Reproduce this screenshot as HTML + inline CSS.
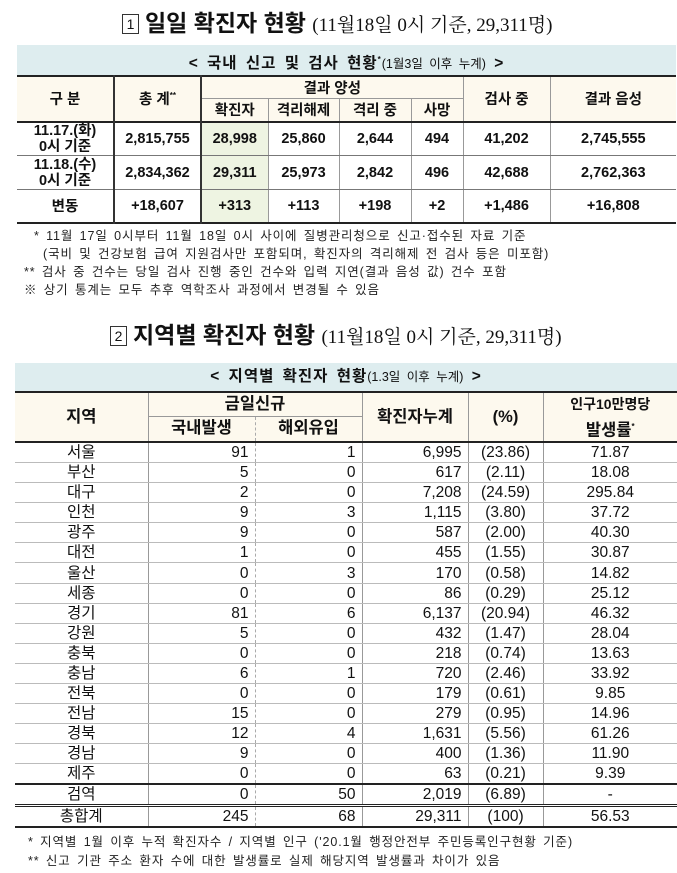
<!DOCTYPE html>
<html><head><meta charset="utf-8"><style>
*{margin:0;padding:0;box-sizing:border-box}
body{width:677px;height:873px;background:#fff;font-family:"Liberation Sans","Noto Sans CJK KR",sans-serif;color:#111;position:relative;overflow:hidden}
.a{position:absolute}
.t{font-weight:bold;font-size:23px;white-space:nowrap}
.t small{font-family:"Liberation Serif","Noto Serif CJK SC",serif;font-weight:normal;font-size:19px}
.bx{display:inline-block;width:17px;height:20px;border:1px solid #333;font-size:14px;font-weight:normal;text-align:center;line-height:18px;vertical-align:2px;margin-right:6px}
.bar{background:#deedef;text-align:center;font-weight:bold;font-size:15.5px;letter-spacing:1px;word-spacing:3px}
.bar span{font-weight:normal;font-size:12.5px;letter-spacing:0}
table{position:absolute;border-collapse:collapse;table-layout:fixed}
td{text-align:center;padding:0;white-space:nowrap}
.t1 td{font-size:14.5px;font-weight:bold;border-left:1px solid #999;border-bottom:1px solid #777}
.t1 td.f{border-left:none}
.t1 td.k{border-left:2px solid #333}
.hd td{background:#fdf9ee}
.g{background:#eef4e2}
.t2 td{font-size:15.5px;border-left:1px solid #999;border-bottom:1px solid #bbb;height:20.1px;line-height:19px}
.t2 td.r{text-align:right;padding-right:6px}
.t2 td.d{border-left:1px dashed #aaa}
.t2 .hd td{font-weight:bold;font-size:16.5px;border-bottom:1px solid #999}
.fn{font-size:12.5px;white-space:nowrap;color:#222;letter-spacing:0.9px;word-spacing:2px}
</style></head><body>
<div class="a t" style="left:122px;top:4px"><span class="bx">1</span>일일 확진자 현황 <small>(11월18일 0시 기준, 29,311명)</small></div>
<div class="a bar" style="left:17px;top:45px;width:659px;height:30px;line-height:30px">&lt; 국내 신고 및 검사 현황<sup style="font-size:8px">*</sup><span>(1월3일 이후 누계)</span> &gt;</div>
<table class="t1" style="left:17px;top:75px;width:659px;border-top:2px solid #222;border-bottom:2px solid #222">
<colgroup><col style="width:97px"><col style="width:87px"><col style="width:67px"><col style="width:71px"><col style="width:72px"><col style="width:52px"><col style="width:87px"><col style="width:126px"></colgroup>
<tr class="hd" style="height:22px"><td class="f" rowspan="2">구 분</td><td class="k" rowspan="2">총 계<sup style="font-size:8px">**</sup></td><td class="k" colspan="4" style="border-bottom:1px solid #999">결과 양성</td><td rowspan="2">검사 중</td><td rowspan="2">결과 음성</td></tr>
<tr class="hd" style="height:23px;border-bottom:2px solid #222"><td class="k">확진자</td><td>격리해제</td><td>격리 중</td><td>사망</td></tr>
<tr style="height:34px"><td class="f" style="line-height:16px">11.17.(화)<br>0시 기준</td><td class="k">2,815,755</td><td class="k g">28,998</td><td>25,860</td><td>2,644</td><td>494</td><td>41,202</td><td>2,745,555</td></tr>
<tr style="height:34px"><td class="f" style="line-height:16px">11.18.(수)<br>0시 기준</td><td class="k">2,834,362</td><td class="k g">29,311</td><td>25,973</td><td>2,842</td><td>496</td><td>42,688</td><td>2,762,363</td></tr>
<tr style="height:33px"><td class="f">변동</td><td class="k">+18,607</td><td class="k g">+313</td><td>+113</td><td>+198</td><td>+2</td><td>+1,486</td><td>+16,808</td></tr>
</table>
<div class="a fn" style="left:34px;top:225px">* 11월 17일 0시부터 11월 18일 0시 사이에 질병관리청으로 신고·접수된 자료 기준</div>
<div class="a fn" style="left:43px;top:243px">(국비 및 건강보험 급여 지원검사만 포함되며, 확진자의 격리해제 전 검사 등은 미포함)</div>
<div class="a fn" style="left:24px;top:261px">** 검사 중 건수는 당일 검사 진행 중인 건수와 입력 지연(결과 음성 값) 건수 포함</div>
<div class="a fn" style="left:24px;top:279px">※ 상기 통계는 모두 추후 역학조사 과정에서 변경될 수 있음</div>

<div class="a t" style="left:110px;top:316px"><span class="bx">2</span>지역별 확진자 현황 <small>(11월18일 0시 기준, 29,311명)</small></div>
<div class="a bar" style="left:15px;top:363px;width:662px;height:28px;line-height:28px">&lt; 지역별 확진자 현황<span>(1.3일 이후 누계)</span> &gt;</div>
<table class="t2" style="left:15px;top:391px;width:662px;border-top:2px solid #222">
<colgroup><col style="width:133px"><col style="width:107px"><col style="width:107px"><col style="width:106px"><col style="width:75px"><col style="width:134px"></colgroup>
<tr class="hd" style="height:24px"><td rowspan="2" style="border-left:none">지역</td><td colspan="2">금일신규</td><td rowspan="2">확진자누계</td><td rowspan="2">(%)</td><td style="border-bottom:none;font-size:14px">인구10만명당</td></tr>
<tr class="hd" style="height:26px;border-bottom:2px solid #222"><td>국내발생</td><td class="d">해외유입</td><td>발생률<sup style="font-size:8px">*</sup></td></tr>
<tr><td style="border-left:none">서울</td><td class="r">91</td><td class="r d">1</td><td class="r">6,995</td><td>(23.86)</td><td>71.87</td></tr>
<tr><td style="border-left:none">부산</td><td class="r">5</td><td class="r d">0</td><td class="r">617</td><td>(2.11)</td><td>18.08</td></tr>
<tr><td style="border-left:none">대구</td><td class="r">2</td><td class="r d">0</td><td class="r">7,208</td><td>(24.59)</td><td>295.84</td></tr>
<tr><td style="border-left:none">인천</td><td class="r">9</td><td class="r d">3</td><td class="r">1,115</td><td>(3.80)</td><td>37.72</td></tr>
<tr><td style="border-left:none">광주</td><td class="r">9</td><td class="r d">0</td><td class="r">587</td><td>(2.00)</td><td>40.30</td></tr>
<tr><td style="border-left:none">대전</td><td class="r">1</td><td class="r d">0</td><td class="r">455</td><td>(1.55)</td><td>30.87</td></tr>
<tr><td style="border-left:none">울산</td><td class="r">0</td><td class="r d">3</td><td class="r">170</td><td>(0.58)</td><td>14.82</td></tr>
<tr><td style="border-left:none">세종</td><td class="r">0</td><td class="r d">0</td><td class="r">86</td><td>(0.29)</td><td>25.12</td></tr>
<tr><td style="border-left:none">경기</td><td class="r">81</td><td class="r d">6</td><td class="r">6,137</td><td>(20.94)</td><td>46.32</td></tr>
<tr><td style="border-left:none">강원</td><td class="r">5</td><td class="r d">0</td><td class="r">432</td><td>(1.47)</td><td>28.04</td></tr>
<tr><td style="border-left:none">충북</td><td class="r">0</td><td class="r d">0</td><td class="r">218</td><td>(0.74)</td><td>13.63</td></tr>
<tr><td style="border-left:none">충남</td><td class="r">6</td><td class="r d">1</td><td class="r">720</td><td>(2.46)</td><td>33.92</td></tr>
<tr><td style="border-left:none">전북</td><td class="r">0</td><td class="r d">0</td><td class="r">179</td><td>(0.61)</td><td>9.85</td></tr>
<tr><td style="border-left:none">전남</td><td class="r">15</td><td class="r d">0</td><td class="r">279</td><td>(0.95)</td><td>14.96</td></tr>
<tr><td style="border-left:none">경북</td><td class="r">12</td><td class="r d">4</td><td class="r">1,631</td><td>(5.56)</td><td>61.26</td></tr>
<tr><td style="border-left:none">경남</td><td class="r">9</td><td class="r d">0</td><td class="r">400</td><td>(1.36)</td><td>11.90</td></tr>
<tr style="border-bottom:2px solid #222"><td style="border-left:none">제주</td><td class="r">0</td><td class="r d">0</td><td class="r">63</td><td>(0.21)</td><td>9.39</td></tr>
<tr style="border-bottom:3px double #222"><td style="border-left:none">검역</td><td class="r">0</td><td class="r d">50</td><td class="r">2,019</td><td>(6.89)</td><td>-</td></tr>
<tr style="border-bottom:2px solid #222"><td style="border-left:none">총합계</td><td class="r">245</td><td class="r d">68</td><td class="r">29,311</td><td>(100)</td><td>56.53</td></tr>
</table>
<div class="a fn" style="left:28px;top:831px">* 지역별 1월 이후 누적 확진자수 / 지역별 인구 ('20.1월 행정안전부 주민등록인구현황 기준)</div>
<div class="a fn" style="left:28px;top:850px">** 신고 기관 주소 환자 수에 대한 발생률로 실제 해당지역 발생률과 차이가 있음</div>
</body></html>
